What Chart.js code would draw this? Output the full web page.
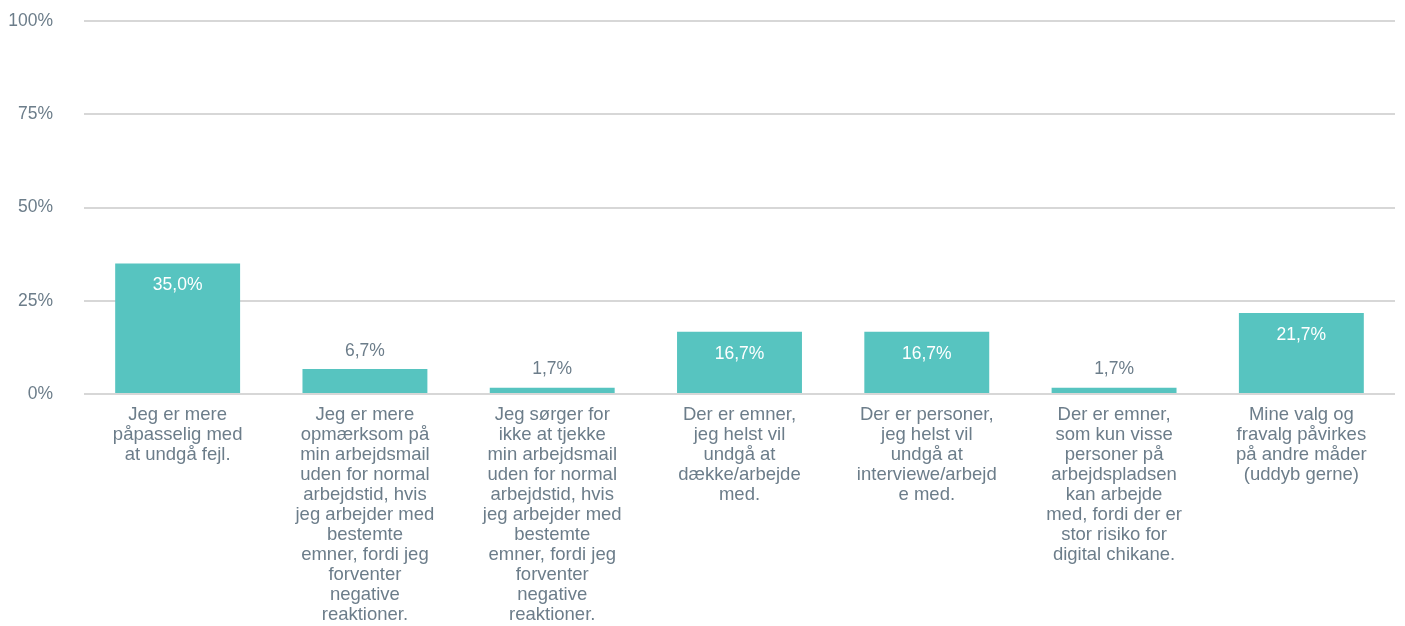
<!DOCTYPE html>
<html>
<head>
<meta charset="utf-8">
<script src="https://cdn.jsdelivr.net/npm/chart.js@4/dist/chart.umd.min.js"></script>
<style>
  html, body { margin: 0; padding: 0; background: #fff; }
  #wrap { width: 1405px; height: 626px; }
</style>
</head>
<body>
<div id="wrap"><canvas id="chart"></canvas></div>
<script>
// --- chart data ---
const categories = [
    ['Jeg er mere', 'påpasselig med', 'at undgå fejl.'],
    ['Jeg er mere', 'opmærksom på', 'min arbejdsmail', 'uden for normal', 'arbejdstid, hvis', 'jeg arbejder med', 'bestemte', 'emner, fordi jeg', 'forventer', 'negative', 'reaktioner.'],
    ['Jeg sørger for', 'ikke at tjekke', 'min arbejdsmail', 'uden for normal', 'arbejdstid, hvis', 'jeg arbejder med', 'bestemte', 'emner, fordi jeg', 'forventer', 'negative', 'reaktioner.'],
    ['Der er emner,', 'jeg helst vil', 'undgå at', 'dække/arbejde', 'med.'],
    ['Der er personer,', 'jeg helst vil', 'undgå at', 'interviewe/arbejd', 'e med.'],
    ['Der er emner,', 'som kun visse', 'personer på', 'arbejdspladsen', 'kan arbejde', 'med, fordi der er', 'stor risiko for', 'digital chikane.'],
    ['Mine valg og', 'fravalg påvirkes', 'på andre måder', '(uddyb gerne)']
];
const percentages = [35.0, 6.7, 1.7, 16.7, 16.7, 1.7, 21.7];
const yTicks = [0, 25, 50, 75, 100];

const textGrey = '#6c7d8a';
const barColor = '#57c4c0';
const fontFamily = "Arial, 'Liberation Sans', sans-serif";
const fontSize = 17.5;
const xFontSize = 18.5;

// value labels: white inside tall bars, grey above short ones
const valueLabels = {
    id: 'valueLabels',
    afterDatasetsDraw(chart) {
        const ctx = chart.ctx;
        const meta = chart.getDatasetMeta(0);
        ctx.save();
        ctx.font = fontSize + 'px ' + fontFamily;
        ctx.textAlign = 'center';
        ctx.textBaseline = 'middle';
        meta.data.forEach(function(bar, i) {
            const v = percentages[i];
            const txt = v.toFixed(1).replace('.', ',') + '%';
            if (v > 10) {
                ctx.fillStyle = '#ffffff';
                ctx.fillText(txt, bar.x, bar.y + 22);
            } else {
                ctx.fillStyle = textGrey;
                ctx.fillText(txt, bar.x, bar.y - 18);
            }
        });
        ctx.restore();
    }
};

new Chart(document.getElementById('chart'), {
    type: 'bar',
    data: {
        labels: categories,
        datasets: [{
            data: percentages,
            backgroundColor: barColor,
            categoryPercentage: 1,
            barPercentage: 0.667
        }]
    },
    options: {
        responsive: true,
        maintainAspectRatio: false,
        animation: false,
        layout: { padding: { left: 0, right: 10, top: 21, bottom: 0 } },
        plugins: {
            legend: { display: false },
            tooltip: { enabled: false }
        },
        scales: {
            x: {
                grid: { display: false },
                border: { display: false },
                afterFit: function(axis) { axis.height = 232; },
                ticks: {
                    color: textGrey,
                    font: { size: xFontSize, family: fontFamily, lineHeight: 20 / xFontSize },
                    padding: 3,
                    maxRotation: 0,
                    autoSkip: false
                }
            },
            y: {
                min: 0,
                max: 100,
                afterBuildTicks: function(axis) {
                    axis.ticks = yTicks.map(v => ({ value: v }));
                },
                afterFit: function(axis) {
                    // fixed width, and drop the extra top padding Chart.js adds for the tick padding
                    axis.width = 84;
                    axis.paddingTop = 0;
                    axis.paddingBottom = 0;
                },
                grid: { color: '#d7d7d7', lineWidth: 2, drawTicks: false },
                border: { display: false },
                ticks: {
                    color: textGrey,
                    font: { size: fontSize, family: fontFamily },
                    padding: 31,
                    callback: v => v + '%'
                }
            }
        }
    },
    plugins: [valueLabels]
});
</script>
</body>
</html>
